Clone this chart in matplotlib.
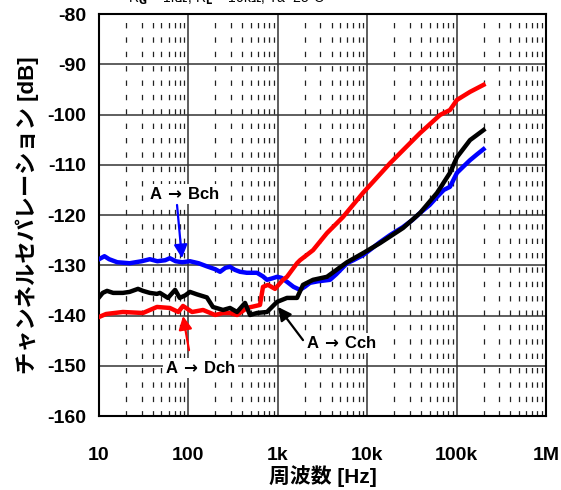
import matplotlib
matplotlib.use("Agg")
import matplotlib.pyplot as plt
from matplotlib.ticker import FixedLocator, NullFormatter

plt.rcParams['font.family'] = ['Liberation Sans', 'Noto Sans CJK JP', 'DejaVu Sans']
plt.rcParams['font.weight'] = 'bold'
plt.rcParams['axes.unicode_minus'] = False
plt.rcParams['mathtext.default'] = 'bf'

# A -> Bch (blue)
freq_b = [10, 11.5, 13, 16, 22, 30, 37, 45, 55, 62, 72, 85, 104, 130, 160, 200,
          226, 260, 292, 330, 378, 450, 585, 680, 757, 870, 980, 1100, 1267, 1500,
          1772, 2000, 2291, 2800, 3837, 4500, 5943, 7000, 8970, 11000, 13900,
          18000, 25100, 32000, 39000, 50000, 60400, 72000, 84300, 101000, 120000,
          141000, 170000, 200000]
sep_b = [-128.8, -128.2, -128.8, -129.4, -129.6, -129.2, -128.8, -129.2, -129.0,
         -128.6, -129.2, -129.4, -129.2, -129.6, -130.2, -130.8, -131.3, -130.5,
         -130.3, -130.9, -131.3, -131.5, -131.5, -132.2, -132.9, -132.6, -132.3,
         -132.5, -133.3, -134.3, -134.9, -134.3, -133.5, -133.2, -132.9, -131.8,
         -129.6, -129.0, -128.0, -126.8, -125.4, -124.0, -122.4, -121.0, -119.6,
         -118.0, -116.4, -115.0, -114.4, -111.6, -110.3, -109.1, -107.9, -106.9]

# A -> Cch (black)
freq_c = [10, 11, 12.3, 14.4, 18.5, 22, 27.3, 31, 37, 44.5, 48, 59, 71, 80, 92,
          104, 125, 161, 188, 244, 292, 350, 430, 489, 585, 757, 980, 1267, 1640,
          1914, 2477, 3548, 5943, 8974, 13900, 25120, 38990, 60390, 84330,
          100900, 141200, 200000]
sep_c = [-136.4, -135.5, -135.1, -135.5, -135.5, -135.3, -134.7, -135.1, -135.5,
         -135.7, -135.5, -136.5, -134.9, -136.5, -136.0, -135.3, -135.8, -136.4,
         -138.3, -138.9, -138.5, -139.3, -137.5, -139.9, -139.5, -139.3, -137.3,
         -136.5, -136.5, -133.9, -132.9, -132.3, -129.4, -127.6, -125.6, -122.6,
         -119.6, -115.6, -111.6, -108.5, -105.1, -103.1]

# A -> Dch (red)
freq_d = [10, 12, 18.5, 31, 44.5, 62, 77, 87, 110, 146, 199, 244, 292, 350, 452,
          632, 683, 776, 931, 1143, 1267, 1640, 1772, 2477, 3548, 5358, 8974,
          17990, 38990, 65170, 84330, 100900, 141200, 200000]
sep_d = [-140.3, -139.7, -139.3, -139.5, -138.3, -138.5, -139.3, -138.1, -139.3,
         -138.9, -139.9, -139.5, -139.5, -139.9, -138.5, -137.9, -134.3, -133.9,
         -134.7, -132.9, -132.3, -129.6, -129.0, -127.0, -123.6, -120.4, -115.6,
         -109.7, -103.7, -100.1, -99.1, -97.1, -95.5, -94.1]

x_ticks = [10, 100, 1e3, 1e4, 1e5, 1e6]
x_labels = ['10', '100', '1k', '10k', '100k', '1M']
y_ticks = list(range(-160, -79, 10))

fig = plt.figure(figsize=(5.61, 4.9), dpi=100)
ax = fig.add_axes([99 / 561, 74 / 490, 447 / 561, 402 / 490])

ax.plot(freq_b, sep_b, color='#0000ff', lw=3.2, solid_joinstyle='round', zorder=3)
ax.plot(freq_d, sep_d, color='#ff0000', lw=3.2, solid_joinstyle='round', zorder=4)
ax.plot(freq_c, sep_c, color='#000000', lw=3.2, solid_joinstyle='round', zorder=5)

ax.set_xscale('log')
ax.set_xlim(10, 1e6)
ax.set_ylim(-160, -80)
ax.xaxis.set_major_locator(FixedLocator(x_ticks))
ax.set_xticklabels(x_labels)
minor = [m * 10 ** e for e in range(1, 6) for m in range(2, 10)]
ax.xaxis.set_minor_locator(FixedLocator(minor))
ax.xaxis.set_minor_formatter(NullFormatter())
ax.set_yticks(y_ticks)

ax.grid(which='major', color='#333333', lw=1.1, zorder=1)
ax.grid(which='minor', axis='x', color='#222222', lw=0.9,
        linestyle=(0, (4.3, 7.2)), zorder=1)
ax.tick_params(which='both', length=0)
ax.tick_params(axis='y', pad=9, labelsize=14)
ax.tick_params(axis='x', pad=22, labelsize=14)
for s in ax.spines.values():
    s.set_linewidth(1.5)

ax.set_xlabel('周波数 [Hz]', fontsize=15, fontweight='bold', labelpad=1,
              family=['Liberation Sans', 'Noto Sans CJK JP'])
ax.set_ylabel('チャンネルセパレーション [dB]', fontsize=16, fontweight='bold', labelpad=6,
              family=['Liberation Sans', 'Noto Sans CJK JP'])

box = dict(facecolor='white', edgecolor='none', pad=1.5)
arrow_txt = r'$\,\rightarrow\,$'
ax.annotate('', xy=(84.7, -128.6), xytext=(74.6, -118.0),
            arrowprops=dict(arrowstyle='-|>', color='#0000ff', lw=1.6,
                            mutation_scale=20, shrinkA=0, shrinkB=0), zorder=6)
ax.text(91.6, -115.8, 'A' + arrow_txt + 'Bch', fontsize=12, fontweight='bold',
        ha='center', va='center', bbox=box, zorder=2)

ax.annotate('', xy=(87.1, -140.1), xytext=(101.6, -146.9),
            arrowprops=dict(arrowstyle='-|>', color='#ff0000', lw=1.6,
                            mutation_scale=20, shrinkA=0, shrinkB=0), zorder=6)
ax.text(138, -150.4, 'A' + arrow_txt + 'Dch', fontsize=12, fontweight='bold',
        ha='center', va='center', bbox=box, zorder=2)

ax.annotate('', xy=(1005, -138.3), xytext=(1914, -144.9),
            arrowprops=dict(arrowstyle='-|>', color='#000000', lw=1.6,
                            mutation_scale=20, shrinkA=0, shrinkB=0), zorder=6)
ax.text(5224, -145.5, 'A' + arrow_txt + 'Cch', fontsize=12, fontweight='bold',
        ha='center', va='center', bbox=box, zorder=2)

# measurement conditions, mostly above the top edge
fig.text(128 / 561, 1 - 3 / 490, r'R$_\mathrm{G}$ = 1kΩ, R$_\mathrm{L}$ = 10kΩ, Ta=25°C',
         fontsize=10, fontweight='normal', ha='left', va='baseline',
         family=['Liberation Sans', 'DejaVu Sans'])

fig.savefig('out.png', dpi=100)
